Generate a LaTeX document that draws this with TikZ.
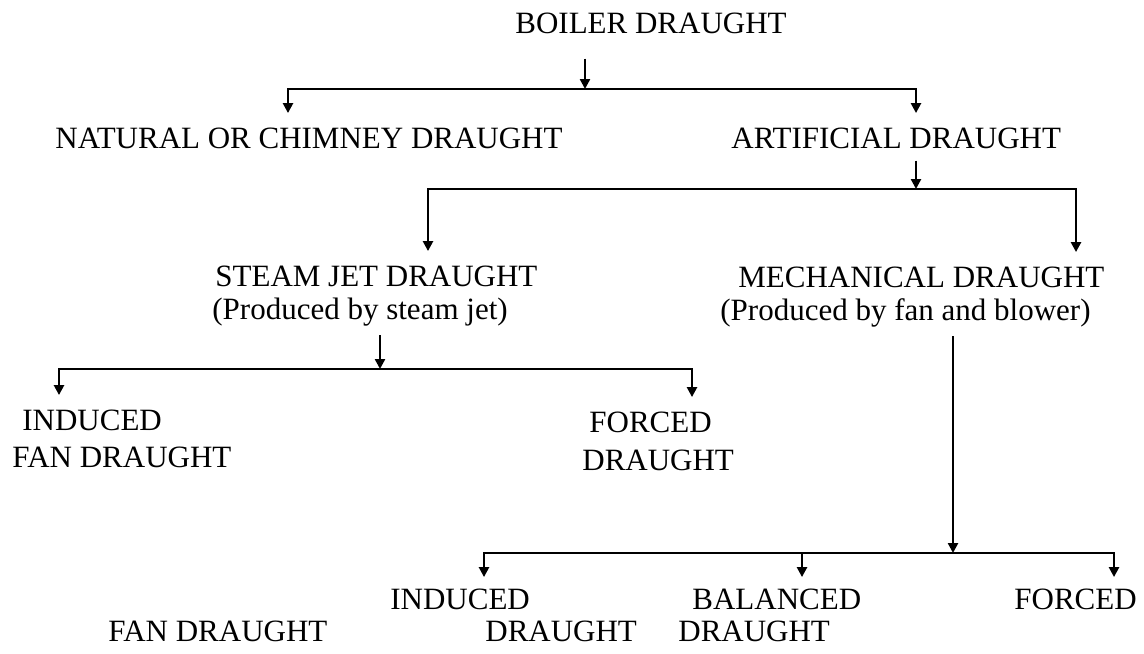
\documentclass[tikz,border=0pt]{standalone}
\usepackage{fontspec}
\setmainfont{Liberation Serif}
\usetikzlibrary{arrows.meta}

\begin{document}
\begin{tikzpicture}[
  x=0.5pt, y=-0.5pt,
  lbl/.style={anchor=base west, inner xsep=0pt, inner ysep=1pt,
              font=\fontsize{15.5}{18}\selectfont},
  arr/.style={-{Triangle[length=5pt,width=5pt]}, line width=1.2pt},
  drop/.style={arr, shorten >=6pt}
]
\useasboundingbox (0,0) rectangle (1144,653);

% level 0 and 1
\node[lbl] (boiler)     at (515,33)  {BOILER DRAUGHT};
\node[lbl] (natural)    at (55,148)  {NATURAL OR CHIMNEY DRAUGHT};
\node[lbl] (artificial) at (731,148) {ARTIFICIAL DRAUGHT};

% level 2
\node[lbl] (steam)    at (215,286) {STEAM JET DRAUGHT};
\node[lbl] (steamsub) at (212,319) {(Produced by steam jet)};
\node[lbl] (mech)     at (738,287) {MECHANICAL DRAUGHT};
\node[lbl] (mechsub)  at (720,320) {(Produced by fan and blower)};

% under steam jet
\node[lbl] (induced1) at (22,430)  {INDUCED};
\node[lbl] (fan1)     at (12,467)  {FAN DRAUGHT};
\node[lbl] (forced1)  at (589,432) {FORCED};
\node[lbl] (draught1) at (582,470) {DRAUGHT};

% under mechanical
\node[lbl] (induced2) at (390,609)  {INDUCED};
\node[lbl] (balanced) at (692,609)  {BALANCED};
\node[lbl] (forced2)  at (1014,609) {FORCED};
\node[lbl] (fan2)     at (108,641)  {FAN DRAUGHT};
\node[lbl] (draught2) at (485,641)  {DRAUGHT};
\node[lbl] (draught3) at (678,641)  {DRAUGHT};

% junctions and drop points
\coordinate (j1) at (585,89);
\coordinate (natdrop) at (288,89);
\coordinate (artdrop) at (916,89);
\coordinate (j2) at (916,189);
\coordinate (steamdrop) at (428,189);
\coordinate (mechdrop) at (1076,189);
\coordinate (j3) at (380,369);
\coordinate (ind1drop) at (59,369);
\coordinate (for1drop) at (692,369);
\coordinate (j4) at (953,553);
\coordinate (ind2drop) at (484,553);
\coordinate (baldrop) at (802,553);
\coordinate (for2drop) at (1114,553);

\draw[arr, shorten <=11.5pt] (boiler.south -| j1) -- (j1);
\draw[drop] (j1) -| (natural.north -| natdrop);
\draw[drop] (j1) -| (artificial.north -| artdrop);

\draw[arr, shorten <=5pt] (artificial.south -| j2) -- (j2);
\draw[drop] (j2) -| (steam.north -| steamdrop);
\draw[drop] (j2) -| (mech.north -| mechdrop);

\draw[arr, shorten <=3.5pt] (steamsub.south -| j3) -- (j3);
\draw[drop] (j3) -| (induced1.north -| ind1drop);
\draw[drop] (j3) -| (forced1.north -| for1drop);

\draw[arr, shorten <=3.5pt] (mechsub.south -| j4) -- (j4);
\draw[drop, shorten >=4.5pt] (j4) -| (induced2.north -| ind2drop);
\draw[drop, shorten >=4.5pt] (baldrop) -- (balanced.north -| baldrop);
\draw[drop, shorten >=4.5pt] (j4) -| (forced2.north -| for2drop);
\end{tikzpicture}
\end{document}
